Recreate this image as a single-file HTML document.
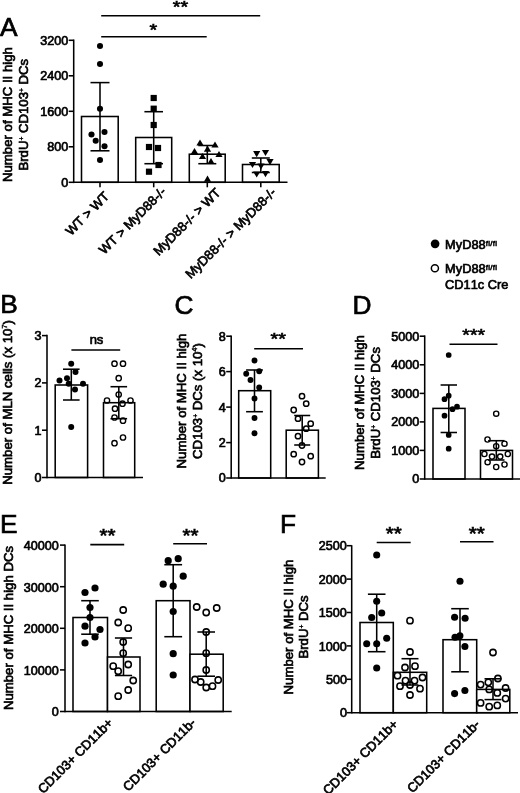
<!DOCTYPE html>
<html><head><meta charset="utf-8"><title>Figure</title>
<style>
html,body{margin:0;padding:0;background:#fff;}
svg{display:block;}
text{font-kerning:none;font-family:"Liberation Sans",Arial,Helvetica,sans-serif;fill:#000;stroke:#000;stroke-width:0.68px;}
text.pl{stroke-width:0.7px;}
text.st{stroke-width:0.7px;}
</style></head><body>
<svg width="520" height="793" viewBox="0 0 520 793">
<rect x="0" y="0" width="520" height="793" fill="#fff"/>
<text x="0.0" y="35.8" font-size="26.3" text-anchor="start" class="pl">A</text>
<line x1="101.2" y1="15.8" x2="260.2" y2="15.8" stroke="#000" stroke-width="1.55"/>
<text transform="translate(180.5 4.1) scale(1.07 0.92)" x="0" y="9.62" font-size="18.5" text-anchor="middle" class="st">**</text>
<line x1="101.2" y1="36.7" x2="206.7" y2="36.7" stroke="#000" stroke-width="1.55"/>
<text transform="translate(153.3 26.9) scale(1.07 0.92)" x="0" y="9.62" font-size="18.5" text-anchor="middle" class="st">*</text>
<rect x="81.5" y="116.5" width="36.7" height="65.8" fill="#fff" stroke="#000" stroke-width="1.55"/>
<rect x="135.7" y="137.5" width="36.0" height="44.8" fill="#fff" stroke="#000" stroke-width="1.55"/>
<rect x="189.3" y="154.2" width="35.9" height="28.1" fill="#fff" stroke="#000" stroke-width="1.55"/>
<rect x="242.5" y="164.5" width="36.7" height="17.8" fill="#fff" stroke="#000" stroke-width="1.55"/>
<line x1="73.7" y1="182.3" x2="287.5" y2="182.3" stroke="#000" stroke-width="1.55"/>
<line x1="73.7" y1="39.5" x2="73.7" y2="183.1" stroke="#000" stroke-width="1.55"/>
<line x1="68.7" y1="182.3" x2="73.7" y2="182.3" stroke="#000" stroke-width="1.55"/>
<text x="68.2" y="186.7" font-size="12.6" text-anchor="end">0</text>
<line x1="68.7" y1="146.8" x2="73.7" y2="146.8" stroke="#000" stroke-width="1.55"/>
<text x="68.2" y="151.2" font-size="12.6" text-anchor="end">800</text>
<line x1="68.7" y1="111.3" x2="73.7" y2="111.3" stroke="#000" stroke-width="1.55"/>
<text x="68.2" y="115.7" font-size="12.6" text-anchor="end">1600</text>
<line x1="68.7" y1="75.8" x2="73.7" y2="75.8" stroke="#000" stroke-width="1.55"/>
<text x="68.2" y="80.2" font-size="12.6" text-anchor="end">2400</text>
<line x1="68.7" y1="40.3" x2="73.7" y2="40.3" stroke="#000" stroke-width="1.55"/>
<text x="68.2" y="44.7" font-size="12.6" text-anchor="end">3200</text>
<line x1="100.0" y1="182.3" x2="100.0" y2="187.3" stroke="#000" stroke-width="1.55"/>
<line x1="153.7" y1="182.3" x2="153.7" y2="187.3" stroke="#000" stroke-width="1.55"/>
<line x1="207.3" y1="182.3" x2="207.3" y2="187.3" stroke="#000" stroke-width="1.55"/>
<line x1="260.8" y1="182.3" x2="260.8" y2="187.3" stroke="#000" stroke-width="1.55"/>
<line x1="100.0" y1="82.6" x2="100.0" y2="150.8" stroke="#000" stroke-width="1.55"/>
<line x1="90.5" y1="82.6" x2="109.5" y2="82.6" stroke="#000" stroke-width="1.55"/>
<line x1="90.5" y1="150.8" x2="109.5" y2="150.8" stroke="#000" stroke-width="1.55"/>
<line x1="153.7" y1="111.7" x2="153.7" y2="163.7" stroke="#000" stroke-width="1.55"/>
<line x1="144.4" y1="111.7" x2="163.0" y2="111.7" stroke="#000" stroke-width="1.55"/>
<line x1="144.4" y1="163.7" x2="163.0" y2="163.7" stroke="#000" stroke-width="1.55"/>
<line x1="207.3" y1="145.5" x2="207.3" y2="163.7" stroke="#000" stroke-width="1.55"/>
<line x1="198.3" y1="145.5" x2="216.3" y2="145.5" stroke="#000" stroke-width="1.55"/>
<line x1="198.3" y1="163.7" x2="216.3" y2="163.7" stroke="#000" stroke-width="1.55"/>
<line x1="260.8" y1="158.0" x2="260.8" y2="172.5" stroke="#000" stroke-width="1.55"/>
<line x1="251.8" y1="158.0" x2="269.8" y2="158.0" stroke="#000" stroke-width="1.55"/>
<line x1="251.8" y1="172.5" x2="269.8" y2="172.5" stroke="#000" stroke-width="1.55"/>
<circle cx="100.0" cy="46.0" r="3.05" fill="#000"/>
<circle cx="100.0" cy="64.0" r="3.05" fill="#000"/>
<circle cx="100.0" cy="108.7" r="3.05" fill="#000"/>
<circle cx="91.5" cy="134.5" r="3.05" fill="#000"/>
<circle cx="104.5" cy="132.0" r="3.05" fill="#000"/>
<circle cx="95.7" cy="140.7" r="3.05" fill="#000"/>
<circle cx="104.5" cy="146.2" r="3.05" fill="#000"/>
<circle cx="100.0" cy="160.0" r="3.05" fill="#000"/>
<rect x="150.6" y="94.9" width="6.2" height="6.2" fill="#000"/>
<rect x="150.6" y="105.6" width="6.2" height="6.2" fill="#000"/>
<rect x="150.6" y="121.9" width="6.2" height="6.2" fill="#000"/>
<rect x="145.9" y="143.9" width="6.2" height="6.2" fill="#000"/>
<rect x="154.9" y="144.9" width="6.2" height="6.2" fill="#000"/>
<rect x="155.4" y="161.9" width="6.2" height="6.2" fill="#000"/>
<rect x="145.9" y="168.6" width="6.2" height="6.2" fill="#000"/>
<polygon points="196.4,145.6 203.6,145.6 200.0,139.4" fill="#000"/>
<polygon points="211.4,147.6 218.6,147.6 215.0,141.4" fill="#000"/>
<polygon points="190.9,154.1 198.1,154.1 194.5,147.9" fill="#000"/>
<polygon points="203.9,151.8 211.1,151.8 207.5,145.6" fill="#000"/>
<polygon points="215.4,157.1 222.6,157.1 219.0,150.9" fill="#000"/>
<polygon points="198.9,159.1 206.1,159.1 202.5,152.9" fill="#000"/>
<polygon points="207.4,164.1 214.6,164.1 211.0,157.9" fill="#000"/>
<polygon points="203.9,181.8 211.1,181.8 207.5,175.6" fill="#000"/>
<polygon points="253.1,151.1 260.3,151.1 256.7,157.3" fill="#000"/>
<polygon points="261.9,149.9 269.1,149.9 265.5,156.1" fill="#000"/>
<polygon points="248.9,161.9 256.1,161.9 252.5,168.1" fill="#000"/>
<polygon points="257.4,163.4 264.6,163.4 261.0,169.6" fill="#000"/>
<polygon points="266.4,159.1 273.6,159.1 270.0,165.3" fill="#000"/>
<polygon points="253.1,171.4 260.3,171.4 256.7,177.6" fill="#000"/>
<polygon points="261.9,171.1 269.1,171.1 265.5,177.3" fill="#000"/>
<text x="110.0" y="197.1" font-size="13.0" text-anchor="end" transform="rotate(-45 110.0 197.1)">WT &gt; WT</text>
<text x="166.9" y="192.5" font-size="13.0" text-anchor="end" transform="rotate(-45 166.9 192.5)">WT &gt; MyD88-/-</text>
<text x="221.3" y="193.6" font-size="13.0" text-anchor="end" transform="rotate(-45 221.3 193.6)">MyD88-/- &gt; WT</text>
<text x="276.8" y="193.3" font-size="13.0" text-anchor="end" transform="rotate(-45 276.8 193.3)">MyD88-/- &gt; MyD88-/-</text>
<text x="11.8" y="114.6" font-size="13.2" text-anchor="middle" transform="rotate(-90 11.8 114.6)">Number of MHC II high</text>
<text x="28.5" y="114.7" font-size="13.2" text-anchor="middle" transform="rotate(-90 28.5 114.7)">BrdU<tspan font-size="6.6" dy="-4.3" stroke-width="0.4">+</tspan><tspan dy="4.3"> CD103</tspan><tspan font-size="6.6" dy="-4.3" stroke-width="0.4">+</tspan><tspan dy="4.3"> DCs</tspan></text>
<circle cx="435.1" cy="243.8" r="4.35" fill="#000"/>
<circle cx="434.9" cy="268.3" r="3.55" fill="#fff" stroke="#000" stroke-width="1.5"/>
<text x="445.1" y="249.2" font-size="12.8" text-anchor="start">MyD88<tspan font-size="7.9" dy="-3.0" stroke-width="0.55" letter-spacing="0.3">fl/fl</tspan></text>
<text x="445.1" y="273.4" font-size="12.8" text-anchor="start">MyD88<tspan font-size="7.9" dy="-3.0" stroke-width="0.55" letter-spacing="0.3">fl/fl</tspan></text>
<text x="445.1" y="289.2" font-size="12.8" text-anchor="start">CD11c Cre</text>
<text x="0.2" y="313.3" font-size="26.3" text-anchor="start" class="pl">B</text>
<rect x="55.2" y="385.0" width="32.4" height="92.5" fill="#fff" stroke="#000" stroke-width="1.55"/>
<rect x="103.5" y="402.7" width="31.2" height="74.8" fill="#fff" stroke="#000" stroke-width="1.55"/>
<line x1="47.0" y1="477.5" x2="143.0" y2="477.5" stroke="#000" stroke-width="1.55"/>
<line x1="47.0" y1="334.7" x2="47.0" y2="478.3" stroke="#000" stroke-width="1.55"/>
<line x1="42.0" y1="477.5" x2="47.0" y2="477.5" stroke="#000" stroke-width="1.55"/>
<text x="41.5" y="481.9" font-size="12.6" text-anchor="end">0</text>
<line x1="42.0" y1="430.2" x2="47.0" y2="430.2" stroke="#000" stroke-width="1.55"/>
<text x="41.5" y="434.6" font-size="12.6" text-anchor="end">1</text>
<line x1="42.0" y1="382.9" x2="47.0" y2="382.9" stroke="#000" stroke-width="1.55"/>
<text x="41.5" y="387.3" font-size="12.6" text-anchor="end">2</text>
<line x1="42.0" y1="335.6" x2="47.0" y2="335.6" stroke="#000" stroke-width="1.55"/>
<text x="41.5" y="340.0" font-size="12.6" text-anchor="end">3</text>
<line x1="71.3" y1="369.2" x2="71.3" y2="400.0" stroke="#000" stroke-width="1.55"/>
<line x1="63.0" y1="369.2" x2="79.6" y2="369.2" stroke="#000" stroke-width="1.55"/>
<line x1="63.0" y1="400.0" x2="79.6" y2="400.0" stroke="#000" stroke-width="1.55"/>
<line x1="118.8" y1="386.7" x2="118.8" y2="418.7" stroke="#000" stroke-width="1.55"/>
<line x1="110.5" y1="386.7" x2="127.1" y2="386.7" stroke="#000" stroke-width="1.55"/>
<line x1="110.5" y1="418.7" x2="127.1" y2="418.7" stroke="#000" stroke-width="1.55"/>
<circle cx="71.2" cy="363.7" r="3.0" fill="#000"/>
<circle cx="75.5" cy="372.0" r="3.0" fill="#000"/>
<circle cx="67.0" cy="378.2" r="3.0" fill="#000"/>
<circle cx="59.5" cy="380.5" r="3.0" fill="#000"/>
<circle cx="68.7" cy="383.7" r="3.0" fill="#000"/>
<circle cx="83.0" cy="383.7" r="3.0" fill="#000"/>
<circle cx="75.0" cy="389.5" r="3.0" fill="#000"/>
<circle cx="71.2" cy="427.0" r="3.0" fill="#000"/>
<circle cx="114.5" cy="363.7" r="2.65" fill="none" stroke="#000" stroke-width="1.4"/>
<circle cx="123.0" cy="363.7" r="2.65" fill="none" stroke="#000" stroke-width="1.4"/>
<circle cx="118.7" cy="378.2" r="2.65" fill="none" stroke="#000" stroke-width="1.4"/>
<circle cx="118.7" cy="394.5" r="2.65" fill="none" stroke="#000" stroke-width="1.4"/>
<circle cx="107.0" cy="400.5" r="2.65" fill="none" stroke="#000" stroke-width="1.4"/>
<circle cx="130.5" cy="400.5" r="2.65" fill="none" stroke="#000" stroke-width="1.4"/>
<circle cx="122.5" cy="403.7" r="2.65" fill="none" stroke="#000" stroke-width="1.4"/>
<circle cx="115.0" cy="408.7" r="2.65" fill="none" stroke="#000" stroke-width="1.4"/>
<circle cx="114.5" cy="417.5" r="2.65" fill="none" stroke="#000" stroke-width="1.4"/>
<circle cx="123.0" cy="420.7" r="2.65" fill="none" stroke="#000" stroke-width="1.4"/>
<circle cx="123.0" cy="437.5" r="2.65" fill="none" stroke="#000" stroke-width="1.4"/>
<circle cx="114.5" cy="443.2" r="2.65" fill="none" stroke="#000" stroke-width="1.4"/>
<text x="96.5" y="343.5" font-size="13" text-anchor="middle">ns</text>
<line x1="71.4" y1="350.0" x2="120.2" y2="350.0" stroke="#000" stroke-width="1.55"/>
<text x="12.0" y="402.4" font-size="13.2" text-anchor="middle" transform="rotate(-90 12.0 402.4)">Number of MLN cells (x 10<tspan font-size="7.5" dy="-5" stroke-width="0.4">7</tspan><tspan dy="5">)</tspan></text>
<text x="174.5" y="314.0" font-size="26.3" text-anchor="start" class="pl">C</text>
<rect x="238.7" y="390.7" width="32.0" height="87.3" fill="#fff" stroke="#000" stroke-width="1.55"/>
<rect x="286.2" y="430.2" width="32.2" height="47.8" fill="#fff" stroke="#000" stroke-width="1.55"/>
<line x1="231.2" y1="478.0" x2="325.7" y2="478.0" stroke="#000" stroke-width="1.55"/>
<line x1="231.2" y1="335.4" x2="231.2" y2="478.8" stroke="#000" stroke-width="1.55"/>
<line x1="226.2" y1="478.0" x2="231.2" y2="478.0" stroke="#000" stroke-width="1.55"/>
<text x="225.7" y="482.4" font-size="12.6" text-anchor="end">0</text>
<line x1="226.2" y1="442.6" x2="231.2" y2="442.6" stroke="#000" stroke-width="1.55"/>
<text x="225.7" y="446.9" font-size="12.6" text-anchor="end">2</text>
<line x1="226.2" y1="407.1" x2="231.2" y2="407.1" stroke="#000" stroke-width="1.55"/>
<text x="225.7" y="411.5" font-size="12.6" text-anchor="end">4</text>
<line x1="226.2" y1="371.6" x2="231.2" y2="371.6" stroke="#000" stroke-width="1.55"/>
<text x="225.7" y="376.0" font-size="12.6" text-anchor="end">6</text>
<line x1="226.2" y1="336.2" x2="231.2" y2="336.2" stroke="#000" stroke-width="1.55"/>
<text x="225.7" y="340.6" font-size="12.6" text-anchor="end">8</text>
<line x1="254.5" y1="370.0" x2="254.5" y2="411.7" stroke="#000" stroke-width="1.55"/>
<line x1="246.1" y1="370.0" x2="262.9" y2="370.0" stroke="#000" stroke-width="1.55"/>
<line x1="246.1" y1="411.7" x2="262.9" y2="411.7" stroke="#000" stroke-width="1.55"/>
<line x1="302.2" y1="415.5" x2="302.2" y2="445.0" stroke="#000" stroke-width="1.55"/>
<line x1="294.2" y1="415.5" x2="310.2" y2="415.5" stroke="#000" stroke-width="1.55"/>
<line x1="294.2" y1="445.0" x2="310.2" y2="445.0" stroke="#000" stroke-width="1.55"/>
<circle cx="254.5" cy="360.5" r="2.95" fill="#000"/>
<circle cx="259.2" cy="371.2" r="2.95" fill="#000"/>
<circle cx="246.2" cy="373.7" r="2.95" fill="#000"/>
<circle cx="250.5" cy="380.0" r="2.95" fill="#000"/>
<circle cx="259.2" cy="387.5" r="2.95" fill="#000"/>
<circle cx="254.5" cy="398.5" r="2.95" fill="#000"/>
<circle cx="254.5" cy="418.0" r="2.95" fill="#000"/>
<circle cx="254.5" cy="433.2" r="2.95" fill="#000"/>
<circle cx="302.0" cy="396.2" r="2.65" fill="none" stroke="#000" stroke-width="1.5"/>
<circle cx="306.2" cy="403.7" r="2.65" fill="none" stroke="#000" stroke-width="1.5"/>
<circle cx="293.7" cy="410.0" r="2.65" fill="none" stroke="#000" stroke-width="1.5"/>
<circle cx="298.0" cy="418.7" r="2.65" fill="none" stroke="#000" stroke-width="1.5"/>
<circle cx="310.7" cy="423.7" r="2.65" fill="none" stroke="#000" stroke-width="1.5"/>
<circle cx="306.2" cy="428.7" r="2.65" fill="none" stroke="#000" stroke-width="1.5"/>
<circle cx="298.0" cy="436.2" r="2.65" fill="none" stroke="#000" stroke-width="1.5"/>
<circle cx="302.0" cy="445.5" r="2.65" fill="none" stroke="#000" stroke-width="1.5"/>
<circle cx="293.7" cy="454.2" r="2.65" fill="none" stroke="#000" stroke-width="1.5"/>
<circle cx="310.7" cy="456.2" r="2.65" fill="none" stroke="#000" stroke-width="1.5"/>
<circle cx="302.0" cy="462.0" r="2.65" fill="none" stroke="#000" stroke-width="1.5"/>
<line x1="254.2" y1="348.7" x2="303.0" y2="348.7" stroke="#000" stroke-width="1.55"/>
<text transform="translate(278.2 336.2) scale(1.07 0.92)" x="0" y="9.62" font-size="18.5" text-anchor="middle" class="st">**</text>
<text x="186.3" y="401.0" font-size="13.2" text-anchor="middle" transform="rotate(-90 186.3 401.0)">Number of MHC II high</text>
<text x="202.0" y="401.0" font-size="13.2" text-anchor="middle" transform="rotate(-90 202.0 401.0)">CD103<tspan font-size="6.6" dy="-4.3" stroke-width="0.4">+</tspan><tspan dy="4.3"> DCs (x 10</tspan><tspan font-size="7.5" dy="-5" stroke-width="0.4">4</tspan><tspan dy="5">)</tspan></text>
<text x="352.5" y="313.5" font-size="26.3" text-anchor="start" class="pl">D</text>
<rect x="433.0" y="408.4" width="32.0" height="70.6" fill="#fff" stroke="#000" stroke-width="1.55"/>
<rect x="480.5" y="450.4" width="32.0" height="28.6" fill="#fff" stroke="#000" stroke-width="1.55"/>
<line x1="424.7" y1="479.0" x2="520.0" y2="479.0" stroke="#000" stroke-width="1.55"/>
<line x1="424.7" y1="335.4" x2="424.7" y2="479.8" stroke="#000" stroke-width="1.55"/>
<line x1="419.7" y1="479.0" x2="424.7" y2="479.0" stroke="#000" stroke-width="1.55"/>
<text x="419.2" y="483.4" font-size="12.6" text-anchor="end">0</text>
<line x1="419.7" y1="450.4" x2="424.7" y2="450.4" stroke="#000" stroke-width="1.55"/>
<text x="419.2" y="454.8" font-size="12.6" text-anchor="end">1000</text>
<line x1="419.7" y1="421.9" x2="424.7" y2="421.9" stroke="#000" stroke-width="1.55"/>
<text x="419.2" y="426.3" font-size="12.6" text-anchor="end">2000</text>
<line x1="419.7" y1="393.4" x2="424.7" y2="393.4" stroke="#000" stroke-width="1.55"/>
<text x="419.2" y="397.8" font-size="12.6" text-anchor="end">3000</text>
<line x1="419.7" y1="364.8" x2="424.7" y2="364.8" stroke="#000" stroke-width="1.55"/>
<text x="419.2" y="369.2" font-size="12.6" text-anchor="end">4000</text>
<line x1="419.7" y1="336.2" x2="424.7" y2="336.2" stroke="#000" stroke-width="1.55"/>
<text x="419.2" y="340.6" font-size="12.6" text-anchor="end">5000</text>
<line x1="448.8" y1="385.0" x2="448.8" y2="432.5" stroke="#000" stroke-width="1.55"/>
<line x1="440.6" y1="385.0" x2="457.0" y2="385.0" stroke="#000" stroke-width="1.55"/>
<line x1="440.6" y1="432.5" x2="457.0" y2="432.5" stroke="#000" stroke-width="1.55"/>
<line x1="496.3" y1="440.7" x2="496.3" y2="460.0" stroke="#000" stroke-width="1.55"/>
<line x1="488.1" y1="440.7" x2="504.5" y2="440.7" stroke="#000" stroke-width="1.55"/>
<line x1="488.1" y1="460.0" x2="504.5" y2="460.0" stroke="#000" stroke-width="1.55"/>
<circle cx="448.7" cy="355.0" r="2.85" fill="#000"/>
<circle cx="448.7" cy="395.7" r="2.85" fill="#000"/>
<circle cx="444.5" cy="399.2" r="2.85" fill="#000"/>
<circle cx="457.0" cy="406.7" r="2.85" fill="#000"/>
<circle cx="452.5" cy="409.2" r="2.85" fill="#000"/>
<circle cx="444.5" cy="415.7" r="2.85" fill="#000"/>
<circle cx="448.7" cy="435.0" r="2.85" fill="#000"/>
<circle cx="448.7" cy="448.7" r="2.85" fill="#000"/>
<circle cx="496.2" cy="413.7" r="2.60" fill="none" stroke="#000" stroke-width="1.4"/>
<circle cx="487.5" cy="439.5" r="2.60" fill="none" stroke="#000" stroke-width="1.4"/>
<circle cx="504.5" cy="443.7" r="2.60" fill="none" stroke="#000" stroke-width="1.4"/>
<circle cx="496.2" cy="446.2" r="2.60" fill="none" stroke="#000" stroke-width="1.4"/>
<circle cx="484.4" cy="454.0" r="2.60" fill="none" stroke="#000" stroke-width="1.4"/>
<circle cx="507.8" cy="454.0" r="2.60" fill="none" stroke="#000" stroke-width="1.4"/>
<circle cx="492.0" cy="456.6" r="2.60" fill="none" stroke="#000" stroke-width="1.4"/>
<circle cx="500.2" cy="456.6" r="2.60" fill="none" stroke="#000" stroke-width="1.4"/>
<circle cx="487.6" cy="462.2" r="2.60" fill="none" stroke="#000" stroke-width="1.4"/>
<circle cx="504.5" cy="464.5" r="2.60" fill="none" stroke="#000" stroke-width="1.4"/>
<circle cx="496.2" cy="467.0" r="2.60" fill="none" stroke="#000" stroke-width="1.4"/>
<line x1="449.5" y1="344.3" x2="497.5" y2="344.3" stroke="#000" stroke-width="1.55"/>
<text transform="translate(473.7 332.8) scale(1.05 0.88)" x="0" y="9.62" font-size="18.5" text-anchor="middle" class="st">***</text>
<text x="363.5" y="402.5" font-size="13.2" text-anchor="middle" transform="rotate(-90 363.5 402.5)">Number of MHC II high</text>
<text x="380.1" y="402.9" font-size="13.2" text-anchor="middle" transform="rotate(-90 380.1 402.9)">BrdU<tspan font-size="6.6" dy="-4.3" stroke-width="0.4">+</tspan><tspan dy="4.3"> CD103</tspan><tspan font-size="6.6" dy="-4.3" stroke-width="0.4">+</tspan><tspan dy="4.3"> DCs</tspan></text>
<text x="0.0" y="532.5" font-size="26.3" text-anchor="start" class="pl">E</text>
<rect x="73.0" y="617.5" width="34.5" height="94.0" fill="#fff" stroke="#000" stroke-width="1.55"/>
<rect x="107.5" y="657.0" width="32.5" height="54.5" fill="#fff" stroke="#000" stroke-width="1.55"/>
<rect x="156.2" y="600.7" width="33.8" height="110.8" fill="#fff" stroke="#000" stroke-width="1.55"/>
<rect x="190.0" y="654.2" width="33.2" height="57.3" fill="#fff" stroke="#000" stroke-width="1.55"/>
<line x1="65.0" y1="711.5" x2="231.7" y2="711.5" stroke="#000" stroke-width="1.55"/>
<line x1="65.0" y1="544.4" x2="65.0" y2="712.3" stroke="#000" stroke-width="1.55"/>
<line x1="60.0" y1="711.5" x2="65.0" y2="711.5" stroke="#000" stroke-width="1.55"/>
<text x="58.8" y="716.3" font-size="12.6" text-anchor="end">0</text>
<line x1="60.0" y1="669.9" x2="65.0" y2="669.9" stroke="#000" stroke-width="1.55"/>
<text x="58.8" y="674.7" font-size="12.6" text-anchor="end">10000</text>
<line x1="60.0" y1="628.3" x2="65.0" y2="628.3" stroke="#000" stroke-width="1.55"/>
<text x="58.8" y="633.1" font-size="12.6" text-anchor="end">20000</text>
<line x1="60.0" y1="586.7" x2="65.0" y2="586.7" stroke="#000" stroke-width="1.55"/>
<text x="58.8" y="591.5" font-size="12.6" text-anchor="end">30000</text>
<line x1="60.0" y1="545.1" x2="65.0" y2="545.1" stroke="#000" stroke-width="1.55"/>
<text x="58.8" y="549.9" font-size="12.6" text-anchor="end">40000</text>
<line x1="90.0" y1="600.7" x2="90.0" y2="634.2" stroke="#000" stroke-width="1.55"/>
<line x1="81.2" y1="600.7" x2="98.8" y2="600.7" stroke="#000" stroke-width="1.55"/>
<line x1="81.2" y1="634.2" x2="98.8" y2="634.2" stroke="#000" stroke-width="1.55"/>
<line x1="123.5" y1="638.0" x2="123.5" y2="675.5" stroke="#000" stroke-width="1.55"/>
<line x1="114.9" y1="638.0" x2="132.1" y2="638.0" stroke="#000" stroke-width="1.55"/>
<line x1="114.9" y1="675.5" x2="132.1" y2="675.5" stroke="#000" stroke-width="1.55"/>
<line x1="173.2" y1="564.7" x2="173.2" y2="636.7" stroke="#000" stroke-width="1.55"/>
<line x1="164.3" y1="564.7" x2="182.1" y2="564.7" stroke="#000" stroke-width="1.55"/>
<line x1="164.3" y1="636.7" x2="182.1" y2="636.7" stroke="#000" stroke-width="1.55"/>
<line x1="206.2" y1="632.0" x2="206.2" y2="676.2" stroke="#000" stroke-width="1.55"/>
<line x1="197.4" y1="632.0" x2="215.0" y2="632.0" stroke="#000" stroke-width="1.55"/>
<line x1="197.4" y1="676.2" x2="215.0" y2="676.2" stroke="#000" stroke-width="1.55"/>
<circle cx="95.0" cy="588.0" r="3.6" fill="#000"/>
<circle cx="85.0" cy="592.5" r="3.6" fill="#000"/>
<circle cx="90.0" cy="607.5" r="3.6" fill="#000"/>
<circle cx="90.0" cy="617.5" r="3.6" fill="#000"/>
<circle cx="85.0" cy="626.2" r="3.6" fill="#000"/>
<circle cx="100.0" cy="629.5" r="3.6" fill="#000"/>
<circle cx="95.0" cy="637.0" r="3.6" fill="#000"/>
<circle cx="85.0" cy="643.0" r="3.6" fill="#000"/>
<circle cx="123.2" cy="610.0" r="3.12" fill="none" stroke="#000" stroke-width="1.55"/>
<circle cx="118.2" cy="622.5" r="3.12" fill="none" stroke="#000" stroke-width="1.55"/>
<circle cx="128.2" cy="628.2" r="3.12" fill="none" stroke="#000" stroke-width="1.55"/>
<circle cx="123.2" cy="642.0" r="3.12" fill="none" stroke="#000" stroke-width="1.55"/>
<circle cx="123.2" cy="653.2" r="3.12" fill="none" stroke="#000" stroke-width="1.55"/>
<circle cx="128.2" cy="664.5" r="3.12" fill="none" stroke="#000" stroke-width="1.55"/>
<circle cx="113.2" cy="666.2" r="3.12" fill="none" stroke="#000" stroke-width="1.55"/>
<circle cx="118.2" cy="671.2" r="3.12" fill="none" stroke="#000" stroke-width="1.55"/>
<circle cx="133.2" cy="680.5" r="3.12" fill="none" stroke="#000" stroke-width="1.55"/>
<circle cx="128.2" cy="690.0" r="3.12" fill="none" stroke="#000" stroke-width="1.55"/>
<circle cx="118.2" cy="696.2" r="3.12" fill="none" stroke="#000" stroke-width="1.55"/>
<circle cx="168.2" cy="560.7" r="3.6" fill="#000"/>
<circle cx="178.2" cy="558.7" r="3.6" fill="#000"/>
<circle cx="183.2" cy="576.2" r="3.6" fill="#000"/>
<circle cx="163.2" cy="584.2" r="3.6" fill="#000"/>
<circle cx="173.2" cy="586.2" r="3.6" fill="#000"/>
<circle cx="173.2" cy="611.5" r="3.6" fill="#000"/>
<circle cx="173.2" cy="653.7" r="3.6" fill="#000"/>
<circle cx="173.2" cy="675.0" r="3.6" fill="#000"/>
<circle cx="196.7" cy="607.0" r="3.12" fill="none" stroke="#000" stroke-width="1.55"/>
<circle cx="206.2" cy="612.5" r="3.12" fill="none" stroke="#000" stroke-width="1.55"/>
<circle cx="216.7" cy="608.0" r="3.12" fill="none" stroke="#000" stroke-width="1.55"/>
<circle cx="206.2" cy="632.0" r="3.12" fill="none" stroke="#000" stroke-width="1.55"/>
<circle cx="206.2" cy="653.2" r="3.12" fill="none" stroke="#000" stroke-width="1.55"/>
<circle cx="206.2" cy="670.0" r="3.12" fill="none" stroke="#000" stroke-width="1.55"/>
<circle cx="195.0" cy="679.5" r="3.12" fill="none" stroke="#000" stroke-width="1.55"/>
<circle cx="200.7" cy="682.0" r="3.12" fill="none" stroke="#000" stroke-width="1.55"/>
<circle cx="218.2" cy="680.0" r="3.12" fill="none" stroke="#000" stroke-width="1.55"/>
<circle cx="206.2" cy="687.5" r="3.12" fill="none" stroke="#000" stroke-width="1.55"/>
<circle cx="212.5" cy="686.2" r="3.12" fill="none" stroke="#000" stroke-width="1.55"/>
<line x1="90.3" y1="544.6" x2="124.2" y2="544.6" stroke="#000" stroke-width="1.55"/>
<line x1="173.2" y1="543.8" x2="207.0" y2="543.8" stroke="#000" stroke-width="1.55"/>
<text transform="translate(107.5 532.7) scale(1.11 1.0)" x="0" y="9.62" font-size="18.5" text-anchor="middle" class="st">**</text>
<text transform="translate(190.5 532.1) scale(1.11 1.0)" x="0" y="9.62" font-size="18.5" text-anchor="middle" class="st">**</text>
<text x="13.4" y="628.0" font-size="13.2" text-anchor="middle" transform="rotate(-90 13.4 628.0)">Number of MHC II high DCs</text>
<text x="113.7" y="723.7" font-size="13.0" text-anchor="end" transform="rotate(-45 113.7 723.7)">CD103+ CD11b+</text>
<text x="196.6" y="723.7" font-size="13.0" text-anchor="end" transform="rotate(-45 196.6 723.7)">CD103+ CD11b-</text>
<text x="280.0" y="533.3" font-size="26.3" text-anchor="start" class="pl">F</text>
<rect x="360.0" y="622.5" width="33.3" height="90.2" fill="#fff" stroke="#000" stroke-width="1.55"/>
<rect x="393.3" y="672.3" width="33.4" height="40.4" fill="#fff" stroke="#000" stroke-width="1.55"/>
<rect x="443.0" y="639.7" width="33.7" height="73.0" fill="#fff" stroke="#000" stroke-width="1.55"/>
<rect x="476.7" y="689.4" width="33.1" height="23.3" fill="#fff" stroke="#000" stroke-width="1.55"/>
<line x1="351.7" y1="712.7" x2="518.0" y2="712.7" stroke="#000" stroke-width="1.55"/>
<line x1="351.7" y1="545.2" x2="351.7" y2="713.5" stroke="#000" stroke-width="1.55"/>
<line x1="346.7" y1="712.7" x2="351.7" y2="712.7" stroke="#000" stroke-width="1.55"/>
<text x="346.9" y="717.4" font-size="12.6" text-anchor="end">0</text>
<line x1="346.7" y1="679.3" x2="351.7" y2="679.3" stroke="#000" stroke-width="1.55"/>
<text x="346.9" y="684.0" font-size="12.6" text-anchor="end">500</text>
<line x1="346.7" y1="645.9" x2="351.7" y2="645.9" stroke="#000" stroke-width="1.55"/>
<text x="346.9" y="650.6" font-size="12.6" text-anchor="end">1000</text>
<line x1="346.7" y1="612.5" x2="351.7" y2="612.5" stroke="#000" stroke-width="1.55"/>
<text x="346.9" y="617.2" font-size="12.6" text-anchor="end">1500</text>
<line x1="346.7" y1="579.1" x2="351.7" y2="579.1" stroke="#000" stroke-width="1.55"/>
<text x="346.9" y="583.8" font-size="12.6" text-anchor="end">2000</text>
<line x1="346.7" y1="545.7" x2="351.7" y2="545.7" stroke="#000" stroke-width="1.55"/>
<text x="346.9" y="550.4" font-size="12.6" text-anchor="end">2500</text>
<line x1="376.7" y1="594.2" x2="376.7" y2="651.7" stroke="#000" stroke-width="1.55"/>
<line x1="367.9" y1="594.2" x2="385.5" y2="594.2" stroke="#000" stroke-width="1.55"/>
<line x1="367.9" y1="651.7" x2="385.5" y2="651.7" stroke="#000" stroke-width="1.55"/>
<line x1="410.0" y1="658.7" x2="410.0" y2="685.0" stroke="#000" stroke-width="1.55"/>
<line x1="401.5" y1="658.7" x2="418.5" y2="658.7" stroke="#000" stroke-width="1.55"/>
<line x1="401.5" y1="685.0" x2="418.5" y2="685.0" stroke="#000" stroke-width="1.55"/>
<line x1="460.0" y1="608.7" x2="460.0" y2="671.8" stroke="#000" stroke-width="1.55"/>
<line x1="451.2" y1="608.7" x2="468.8" y2="608.7" stroke="#000" stroke-width="1.55"/>
<line x1="451.2" y1="671.8" x2="468.8" y2="671.8" stroke="#000" stroke-width="1.55"/>
<line x1="493.0" y1="678.8" x2="493.0" y2="699.6" stroke="#000" stroke-width="1.55"/>
<line x1="484.5" y1="678.8" x2="501.5" y2="678.8" stroke="#000" stroke-width="1.55"/>
<line x1="484.5" y1="699.6" x2="501.5" y2="699.6" stroke="#000" stroke-width="1.55"/>
<circle cx="376.7" cy="555.0" r="3.55" fill="#000"/>
<circle cx="376.7" cy="601.2" r="3.55" fill="#000"/>
<circle cx="381.7" cy="613.0" r="3.55" fill="#000"/>
<circle cx="371.7" cy="617.5" r="3.55" fill="#000"/>
<circle cx="386.7" cy="638.3" r="3.55" fill="#000"/>
<circle cx="366.7" cy="643.7" r="3.55" fill="#000"/>
<circle cx="376.7" cy="643.7" r="3.55" fill="#000"/>
<circle cx="376.7" cy="668.0" r="3.55" fill="#000"/>
<circle cx="410.0" cy="620.7" r="3.12" fill="none" stroke="#000" stroke-width="1.55"/>
<circle cx="410.0" cy="652.0" r="3.12" fill="none" stroke="#000" stroke-width="1.55"/>
<circle cx="405.0" cy="667.5" r="3.12" fill="none" stroke="#000" stroke-width="1.55"/>
<circle cx="415.0" cy="666.2" r="3.12" fill="none" stroke="#000" stroke-width="1.55"/>
<circle cx="397.5" cy="675.7" r="3.12" fill="none" stroke="#000" stroke-width="1.55"/>
<circle cx="422.5" cy="677.5" r="3.12" fill="none" stroke="#000" stroke-width="1.55"/>
<circle cx="405.5" cy="680.7" r="3.12" fill="none" stroke="#000" stroke-width="1.55"/>
<circle cx="414.5" cy="680.7" r="3.12" fill="none" stroke="#000" stroke-width="1.55"/>
<circle cx="400.0" cy="686.2" r="3.12" fill="none" stroke="#000" stroke-width="1.55"/>
<circle cx="410.0" cy="685.0" r="3.12" fill="none" stroke="#000" stroke-width="1.55"/>
<circle cx="420.0" cy="688.7" r="3.12" fill="none" stroke="#000" stroke-width="1.55"/>
<circle cx="410.0" cy="695.0" r="3.12" fill="none" stroke="#000" stroke-width="1.55"/>
<circle cx="460.0" cy="581.2" r="3.55" fill="#000"/>
<circle cx="454.6" cy="617.2" r="3.55" fill="#000"/>
<circle cx="465.1" cy="618.2" r="3.55" fill="#000"/>
<circle cx="455.0" cy="637.2" r="3.55" fill="#000"/>
<circle cx="459.9" cy="635.8" r="3.55" fill="#000"/>
<circle cx="464.9" cy="646.5" r="3.55" fill="#000"/>
<circle cx="454.6" cy="693.6" r="3.55" fill="#000"/>
<circle cx="464.9" cy="690.5" r="3.55" fill="#000"/>
<circle cx="493.0" cy="652.5" r="3.12" fill="none" stroke="#000" stroke-width="1.55"/>
<circle cx="497.9" cy="678.5" r="3.12" fill="none" stroke="#000" stroke-width="1.55"/>
<circle cx="488.3" cy="682.3" r="3.12" fill="none" stroke="#000" stroke-width="1.55"/>
<circle cx="480.6" cy="684.6" r="3.12" fill="none" stroke="#000" stroke-width="1.55"/>
<circle cx="505.6" cy="688.0" r="3.12" fill="none" stroke="#000" stroke-width="1.55"/>
<circle cx="489.2" cy="689.4" r="3.12" fill="none" stroke="#000" stroke-width="1.55"/>
<circle cx="497.3" cy="692.9" r="3.12" fill="none" stroke="#000" stroke-width="1.55"/>
<circle cx="505.6" cy="698.6" r="3.12" fill="none" stroke="#000" stroke-width="1.55"/>
<circle cx="480.6" cy="702.9" r="3.12" fill="none" stroke="#000" stroke-width="1.55"/>
<circle cx="489.2" cy="706.7" r="3.12" fill="none" stroke="#000" stroke-width="1.55"/>
<circle cx="497.3" cy="705.4" r="3.12" fill="none" stroke="#000" stroke-width="1.55"/>
<line x1="376.7" y1="542.5" x2="410.7" y2="542.5" stroke="#000" stroke-width="1.55"/>
<line x1="460.0" y1="541.7" x2="493.5" y2="541.7" stroke="#000" stroke-width="1.55"/>
<text transform="translate(393.7 530.8) scale(1.11 1.0)" x="0" y="9.62" font-size="18.5" text-anchor="middle" class="st">**</text>
<text transform="translate(476.7 530.2) scale(1.11 1.0)" x="0" y="9.62" font-size="18.5" text-anchor="middle" class="st">**</text>
<text x="292.7" y="627.0" font-size="13.2" text-anchor="middle" transform="rotate(-90 292.7 627.0)">Number of MHC II high</text>
<text x="308.3" y="627.0" font-size="13.2" text-anchor="middle" transform="rotate(-90 308.3 627.0)">BrdU<tspan font-size="6.6" dy="-4.3" stroke-width="0.4">+</tspan><tspan dy="4.3"> DCs</tspan></text>
<text x="398.8" y="725.1" font-size="13.0" text-anchor="end" transform="rotate(-45 398.8 725.1)">CD103+ CD11b+</text>
<text x="480.7" y="725.2" font-size="13.0" text-anchor="end" transform="rotate(-45 480.7 725.2)">CD103+ CD11b-</text>
</svg>
</body></html>
